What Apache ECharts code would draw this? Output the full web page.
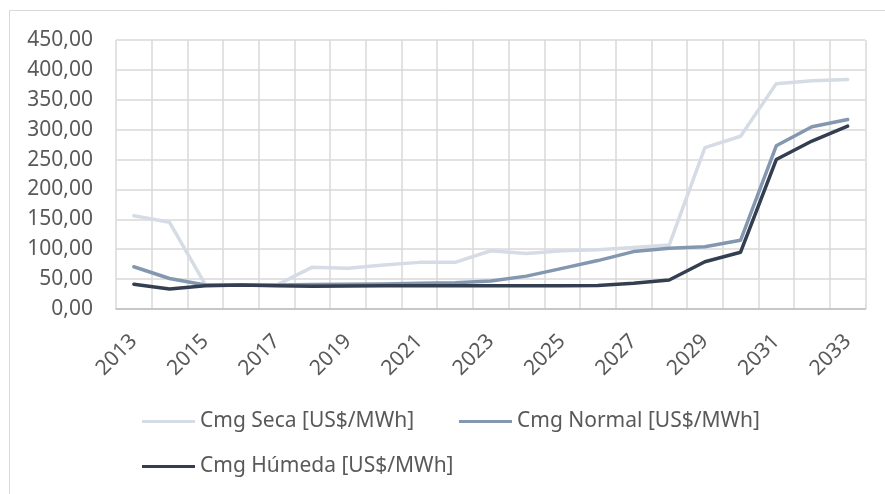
<!DOCTYPE html>
<html>
<head>
<meta charset="utf-8">
<script src="https://cdn.jsdelivr.net/npm/echarts@6/dist/echarts.min.js"></script>
<style>
  html, body { margin: 0; padding: 0; background: #ffffff; }
  #chart { width: 885px; height: 494px; }
</style>
</head>
<body>
<div id="chart"></div>
<script>
// Marginal cost projections by hydrology, 2013–2033
const years = ['2013','2014','2015','2016','2017','2018','2019','2020','2021','2022','2023',
               '2024','2025','2026','2027','2028','2029','2030','2031','2032','2033'];
const seriesNames = ['Cmg Seca [US$/MWh]', 'Cmg Normal [US$/MWh]', 'Cmg Húmeda [US$/MWh]'];
const cmgSeca    = [156, 145, 41, 40, 40, 70, 68, 73.5, 78, 78, 97.5, 93, 97.5, 99, 103, 107, 270, 289, 377, 382, 384];
const cmgNormal  = [70.7, 51, 40, 40, 40, 41, 41.5, 42, 43, 44, 46.8, 55, 68, 81, 96, 101.5, 104, 115, 273, 305, 317];
const cmgHumeda  = [41.3, 33.4, 39, 40, 39, 38, 38.5, 39, 39, 39, 39, 39, 39, 39.5, 43, 48.5, 79, 95, 250, 281, 306];
const yTicks = { min: 0, max: 450, step: 50 };

const colors = ['#d6dce5', '#8497b0', '#333f50'];
const FONT = 'Noto Sans';
const TEXT = '#595959';
const FONT_SIZE = 21;

const chart = echarts.init(document.getElementById('chart'), null, { renderer: 'canvas' });

function line(name, data, color) {
  return {
    name: name,
    type: 'line',
    data: data,
    symbol: 'none',
    smooth: false,
    lineStyle: { color: color, width: 3.5, cap: 'round', join: 'round' },
    itemStyle: { color: color },
    emphasis: { disabled: true }
  };
}

function legendAt(name, left, top) {
  return {
    data: [name],
    left: left,
    top: top,
    icon: 'rect',
    itemWidth: 53,
    itemHeight: 3,
    textStyle: { fontFamily: FONT, fontSize: FONT_SIZE, color: TEXT },
    selectedMode: false
  };
}

chart.setOption({
  animation: false,
  backgroundColor: '#ffffff',
  graphic: [{
    type: 'rect',
    shape: { x: 9.5, y: 10.5, width: 900, height: 500 },
    style: { fill: 'none', stroke: '#d9d9d9', lineWidth: 1 },
    silent: true
  }],
  grid: { left: 116, right: 19.5, top: 40, bottom: 185, containLabel: false },
  legend: [
    legendAt(seriesNames[0], 137, 406),
    legendAt(seriesNames[1], 454, 406),
    legendAt(seriesNames[2], 137, 451)
  ],
  xAxis: {
    type: 'category',
    data: years,
    boundaryGap: true,
    axisLine: { show: true, lineStyle: { color: '#bfbfbf', width: 1.5 } },
    axisTick: { show: false },
    splitLine: { show: true, interval: 0, lineStyle: { color: '#d9d9d9', width: 1.5 } },
    axisLabel: {
      interval: 1,
      rotate: 45,
      margin: 29,
      fontFamily: FONT,
      fontSize: FONT_SIZE,
      color: TEXT
    }
  },
  yAxis: {
    type: 'value',
    min: yTicks.min,
    max: yTicks.max,
    interval: yTicks.step,
    axisLine: { show: false },
    axisTick: { show: false },
    splitLine: { show: true, lineStyle: { color: '#d9d9d9', width: 1.5 } },
    axisLabel: {
      margin: 23,
      fontFamily: FONT,
      fontSize: FONT_SIZE,
      color: TEXT,
      formatter: v => v.toFixed(2).replace('.', ',')
    }
  },
  series: [
    line(seriesNames[0], cmgSeca, colors[0]),
    line(seriesNames[1], cmgNormal, colors[1]),
    line(seriesNames[2], cmgHumeda, colors[2])
  ]
});
</script>
</body>
</html>
